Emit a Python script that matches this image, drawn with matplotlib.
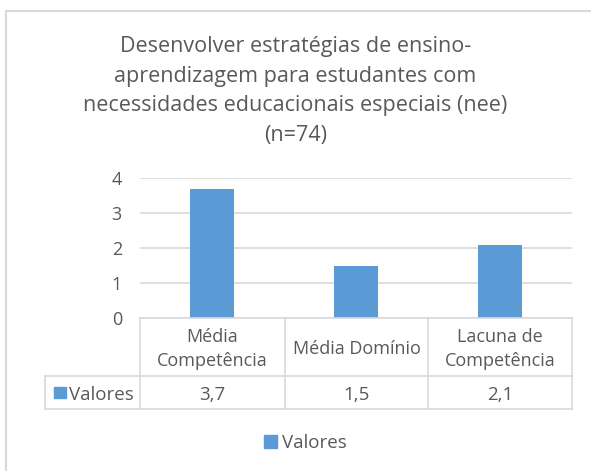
import matplotlib.pyplot as plt
from matplotlib.patches import Rectangle
from matplotlib.lines import Line2D

titulo = "Desenvolver estratégias de ensino-\naprendizagem para estudantes com\nnecessidades educacionais especiais (nee)\n(n=74)"
categorias = ["Média\nCompetência", "Média Domínio", "Lacuna de\nCompetência"]
valores = [3.7, 1.5, 2.1]
rotulos = ["3,7", "1,5", "2,1"]
serie = "Valores"

cor = "#5B9BD5"
texto = "#595959"
grade = "#D9D9D9"

W, H = 591, 471
fig = plt.figure(figsize=(W / 100, H / 100), dpi=100)
plt.rcParams['font.family'] = ['Open Sans', 'DejaVu Sans']

def fx(x):
    return x / W

def fy(y):
    return 1 - y / H

def linha(xa, ya, xb, yb, lw=1.2):
    fig.add_artist(Line2D([fx(xa), fx(xb)], [fy(ya), fy(yb)], color=grade, lw=lw))

# borda do gráfico (só topo e esquerda aparecem)
linha(6, 11, 591, 11, 1.5)
linha(6, 11, 6, 471, 1.5)

x0, x1, ytop, y0 = 140, 572, 178, 318
ax = fig.add_axes([fx(x0), fy(y0), fx(x1 - x0), fy(ytop) - fy(y0)])
ax.bar(range(3), valores, width=0.31, color=cor)
ax.set_xlim(-0.5, 2.5)
ax.set_ylim(0, 4)
ax.set_yticks([0, 1, 2, 3, 4])
ax.yaxis.grid(True, color=grade, lw=1.2)
ax.set_axisbelow(True)
for s in ax.spines.values():
    s.set_visible(False)
ax.set_xticks([])
ax.tick_params(axis='y', length=0, labelsize=13, labelcolor=texto, pad=13)

fig.text(0.5, fy(91), titulo, ha='center', va='center', fontsize=15.5, color=texto,
         linespacing=1.55)

# tabela de dados
cols = [140, 285, 428, 572]
r0, r1, r2 = 318, 376, 409
linha(140, r0, 572, r0)
linha(45, r1, 572, r1)
linha(45, r2, 572, r2)
linha(45, r1, 45, r2)
for c in cols:
    linha(c, r0, c, r2)
for i, (cat, rot) in enumerate(zip(categorias, rotulos)):
    xc = (cols[i] + cols[i + 1]) / 2
    fig.text(fx(xc), fy(349), cat, ha='center', va='center', fontsize=13,
             color=texto, linespacing=1.38)
    fig.text(fx(xc), fy(395), rot, ha='center', va='center', fontsize=13.5,
             color=texto)
fig.patches.append(Rectangle((fx(54), fy(398)), fx(12), fy(387) - fy(398),
                             transform=fig.transFigure, color=cor))
fig.text(fx(69), fy(395), serie, ha='left', va='center', fontsize=13.5, color=texto)

# legenda
fig.patches.append(Rectangle((fx(264), fy(448)), fx(13), fy(435) - fy(448),
                             transform=fig.transFigure, color=cor))
fig.text(fx(282), fy(443), serie, ha='left', va='center', fontsize=13.5, color=texto)

fig.savefig("out.png", dpi=100)
